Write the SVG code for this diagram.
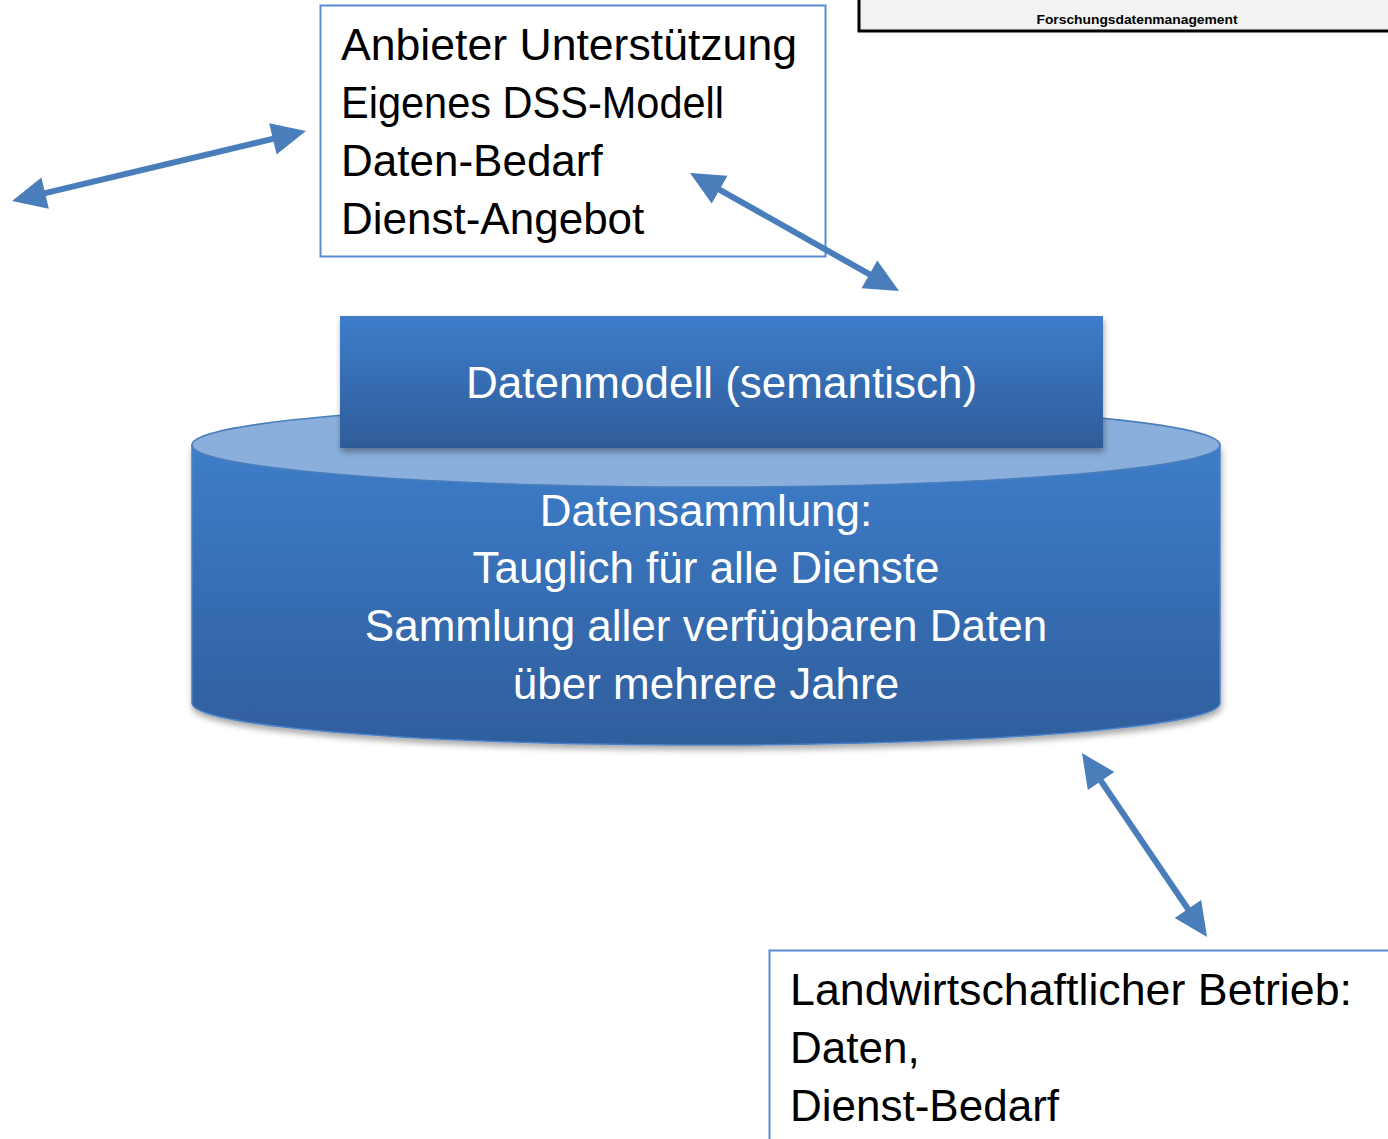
<svg xmlns="http://www.w3.org/2000/svg" width="1388" height="1139" viewBox="0 0 1388 1139">
<style>
.t{font-family:"Liberation Sans",Arial,sans-serif;font-size:44px;fill:#000}
.w{font-family:"Liberation Sans",Arial,sans-serif;font-size:44px;fill:#fff;text-anchor:middle}
.box{fill:#fff;stroke:#5a8ad0;stroke-width:2}
.arr{stroke:#4a7ebb;stroke-width:6;fill:none;marker-start:url(#ah);marker-end:url(#ah)}
</style>
<defs>
<marker id="ah" markerUnits="userSpaceOnUse" markerWidth="34" markerHeight="32" refX="14" refY="16" orient="auto-start-reverse" overflow="visible">
<path d="M0,0 L34,16 L0,32 Z" fill="#4a7ebb"/>
</marker>
<linearGradient id="gb" x1="0" y1="0" x2="0" y2="1">
<stop offset="0" stop-color="#3d7dca"/>
<stop offset="1" stop-color="#2f5e9c"/>
</linearGradient>
<linearGradient id="gr" x1="0" y1="0" x2="0" y2="1">
<stop offset="0" stop-color="#3d7dcb"/>
<stop offset="1" stop-color="#2f5c99"/>
</linearGradient>
<filter id="sh" x="-5%" y="-10%" width="110%" height="130%">
<feDropShadow dx="1" dy="4" stdDeviation="3" flood-color="#000" flood-opacity="0.35"/>
</filter>
</defs>
<g id="header">
<rect x="859" y="-10" width="540" height="41" fill="#f2f2f2" stroke="#000" stroke-width="3"/>
<text x="1137" y="24" font-family="Liberation Sans,Arial,sans-serif" font-size="13" font-weight="bold" text-anchor="middle" textLength="201" lengthAdjust="spacingAndGlyphs">Forschungsdatenmanagement</text>
</g>
<g id="anbieter">
<rect class="box" x="320.5" y="5.5" width="505" height="251"/>
<text class="t" x="341" y="60" textLength="456" lengthAdjust="spacingAndGlyphs">Anbieter Unterstützung</text>
<text class="t" x="341" y="118" textLength="383" lengthAdjust="spacingAndGlyphs">Eigenes DSS-Modell</text>
<text class="t" x="341" y="176">Daten-Bedarf</text>
<text class="t" x="341" y="234">Dienst-Angebot</text>
</g>
<g id="datensammlung">
<path d="M192,445 L192,703 A514,42 0 0 0 1220,703 L1220,445 Z" fill="url(#gb)" stroke="#4a80c8" stroke-width="1.5" filter="url(#sh)"/>
<ellipse cx="706" cy="445" rx="514" ry="42" fill="#8aafdc" stroke="#4a7ebb" stroke-width="1.5"/>
<text class="w" x="706" y="526">Datensammlung:</text>
<text class="w" x="706" y="583">Tauglich für alle Dienste</text>
<text class="w" x="706" y="641">Sammlung aller verfügbaren Daten</text>
<text class="w" x="706" y="699">über mehrere Jahre</text>
</g>
<g id="datenmodell">
<rect x="340" y="316" width="763" height="132" fill="url(#gr)" filter="url(#sh)"/>
<text class="w" x="721.5" y="398">Datenmodell (semantisch)</text>
</g>
<g id="betrieb">
<rect class="box" x="769.5" y="950.5" width="640" height="210"/>
<text class="t" x="790" y="1005" textLength="562" lengthAdjust="spacingAndGlyphs">Landwirtschaftlicher Betrieb:</text>
<text class="t" x="790" y="1063">Daten,</text>
<text class="t" x="790" y="1121">Dienst-Bedarf</text>
</g>
<g id="connectors">
<line class="arr" x1="31.5" y1="196.4" x2="286.5" y2="135.6"/>
<line class="arr" x1="707.4" y1="182.8" x2="881.6" y2="281.2"/>
<line class="arr" x1="1093.2" y1="769.5" x2="1195.8" y2="920.5"/>
</g>
</svg>
